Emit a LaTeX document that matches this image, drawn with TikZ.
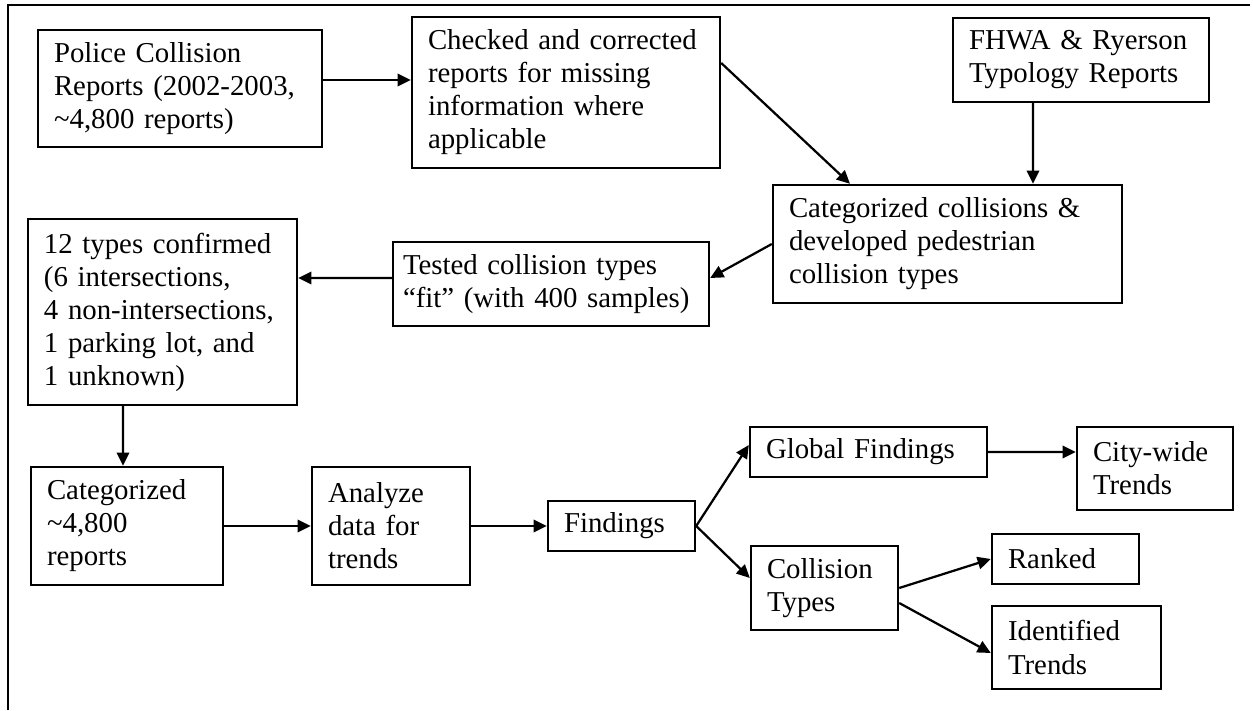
\documentclass[tikz,border=0pt]{standalone}
\usepackage{fontspec}
\setmainfont{Liberation Serif}
\usetikzlibrary{arrows.meta}

\begin{document}
\begin{tikzpicture}[->,>={Triangle[length=3.3mm,width=3.1mm]},line width=1.6pt]
  \tikzstyle{stage}=[rectangle,draw,line width=1.7pt,align=left,inner xsep=0.4cm,inner ysep=0pt,font=\fontsize{20.5}{23.5}\selectfont]
  \useasboundingbox (0,0) rectangle (31.325,17.75);
  \draw[-,line width=1.8pt] (0.2,0) |- (31.25,17.625);
  \node[stage, text width=6.3cm, minimum height=2.925cm]   (police) at (4.5,15.5375)     {Police Collision\\Reports (2002-2003,\\\textasciitilde 4,800 reports)};
  \node[stage, text width=6.9cm, minimum height=3.775cm]   (checked) at (14.15,15.4375)  {Checked and corrected\\reports for missing\\information where\\applicable};
  \node[stage, text width=5.6cm, minimum height=2.1cm]     (fhwa) at (27.025,16.25)      {FHWA \& Ryerson\\Typology Reports};
  \node[stage, text width=7.925cm, minimum height=2.95cm]  (catcoll) at (23.6875,11.65)  {Categorized collisions \&\\developed pedestrian\\collision types};
  \node[stage, text width=7.4cm, inner xsep=0.25cm, minimum height=2.1cm] (tested) at (13.775,10.65) {Tested collision types\\``fit'' (with 400 samples)};
  \node[stage, text width=5.925cm, minimum height=4.65cm]  (types) at (4.0625,9.95)      {12 types confirmed\\(6 intersections,\\4 non-intersections,\\1 parking lot, and\\1 unknown)};
  \node[stage, text width=4.0cm, minimum height=2.95cm]    (cat4800) at (3.175,4.6)      {Categorized\\\textasciitilde 4,800\\reports};
  \node[stage, text width=3.15cm, minimum height=2.95cm]   (analyze) at (9.775,4.6)      {Analyze\\data for\\trends};
  \node[stage, text width=2.875cm, minimum height=1.25cm]  (findings) at (15.5375,4.6)   {Findings};
  \node[stage, text width=5.125cm, minimum height=1.25cm]  (global) at (21.7125,6.45)    {Global Findings};
  \node[stage, text width=3.1cm, minimum height=2.075cm]   (citywide) at (28.875,6.0375) {City-wide\\Trends};
  \node[stage, text width=2.875cm, minimum height=2.1cm]   (ctypes) at (20.6125,3.05)    {Collision\\Types};
  \node[stage, text width=2.875cm, minimum height=1.25cm]  (ranked) at (26.6375,3.775)   {Ranked};
  \node[stage, text width=3.425cm, minimum height=2.075cm] (ident) at (26.9125,1.5625)   {Identified\\Trends};
  \path ([yshift=0.2125cm]police.east) edge ([yshift=0.3125cm]checked.west);
  \path ([yshift=0.7375cm]checked.east) edge ([xshift=-2.4375cm]catcoll.north);
  \path ([xshift=-1.2cm]fhwa.south) edge ([xshift=2.1375cm]catcoll.north);
  \path (catcoll.west) edge ([yshift=0.15cm]tested.east);
  \path ([yshift=0.15cm]tested.west) edge ([yshift=0.85cm]types.east);
  \path ([xshift=-0.9875cm]types.south) edge ([xshift=-0.1cm]cat4800.north);
  \path (cat4800.east) edge (analyze.west);
  \path (analyze.east) edge (findings.west);
  \path (findings.east) edge ([yshift=0.175cm]global.west);
  \path (findings.east) edge ([yshift=0.25cm]ctypes.west);
  \path (global.east) edge ([yshift=0.4125cm]citywide.west);
  \path (ctypes.east) edge (ranked.west);
  \path ([yshift=-0.375cm]ctypes.east) edge ([yshift=-0.1375cm]ident.west);
\end{tikzpicture}
\end{document}
